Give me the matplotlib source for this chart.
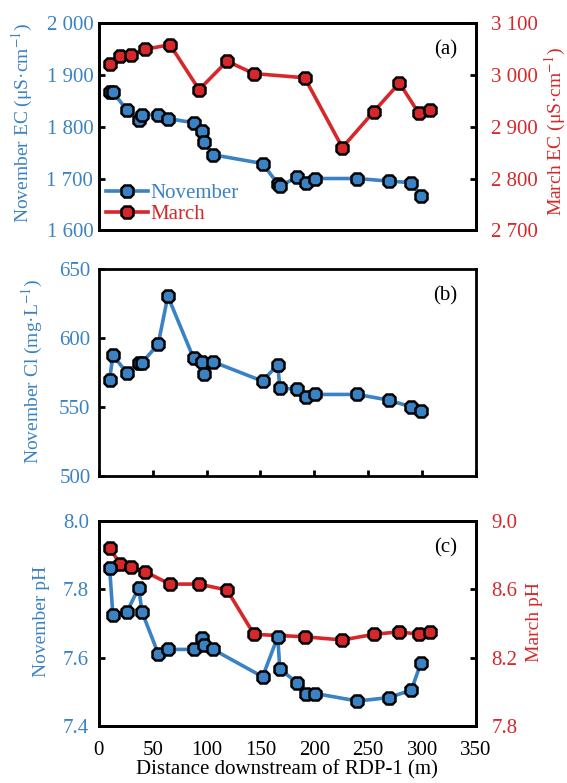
import matplotlib
matplotlib.use("Agg")
import matplotlib.pyplot as plt
from matplotlib.ticker import FuncFormatter

plt.rcParams['font.family'] = ['Liberation Serif', 'DejaVu Serif']
plt.rcParams['mathtext.fontset'] = 'stix'

# ---- data ----
nov_dist = [10, 13, 26, 37, 40, 55, 64, 88, 96, 98, 106, 152, 166, 168, 184, 192, 201, 240, 269, 290, 299]
nov_ec = [1868, 1868, 1832, 1813, 1823, 1823, 1816, 1808, 1792, 1770, 1746, 1729, 1690, 1686, 1702, 1692, 1700, 1700, 1695, 1692, 1666]
nov_cl = [569.8, 587.4, 574.6, 581.9, 581.9, 595.3, 630.0, 585.0, 582.6, 574.1, 582.6, 568.6, 580.6, 563.8, 562.6, 557.3, 559.0, 559.0, 554.9, 550.0, 546.9]
nov_ph = [7.861, 7.724, 7.734, 7.804, 7.734, 7.612, 7.624, 7.624, 7.656, 7.637, 7.624, 7.544, 7.661, 7.566, 7.527, 7.495, 7.495, 7.473, 7.483, 7.505, 7.585]

mar_dist = [10, 20, 30, 43, 66, 93, 119, 144, 191, 226, 255, 279, 297, 307]
mar_ec = [3021, 3037, 3039, 3050, 3059, 2972, 3027, 3003, 2995, 2860, 2929, 2985, 2926, 2932]
mar_ph = [8.842, 8.745, 8.731, 8.702, 8.630, 8.630, 8.595, 8.336, 8.322, 8.303, 8.336, 8.351, 8.336, 8.351]

x_ticks = [0, 50, 100, 150, 200, 250, 300, 350]
ec_nov_ticks = [1600, 1700, 1800, 1900, 2000]
ec_mar_ticks = [2700, 2800, 2900, 3000, 3100]
cl_ticks = [500, 550, 600, 650]
ph_nov_ticks = [7.4, 7.6, 7.8, 8.0]
ph_mar_ticks = [7.8, 8.2, 8.6, 9.0]

BLUE = '#3A82C4'
RED = '#D6282A'
FS = 15
LFS = 14

fig = plt.figure(figsize=(5.67, 7.83), dpi=100)
L, W = 0.1744, 0.665
axa = fig.add_axes([L, 0.706, W, 0.264])
axb = fig.add_axes([L, 0.392, W, 0.265])
axc = fig.add_axes([L, 0.0728, W, 0.262])

line_kw = dict(lw=2.6, marker='8', ms=9.5, mec='black', mew=1.8)

def thousands(v, pos):
    return f"{int(v):,}".replace(",", " ")

def style(ax, color, side='left', pad=4):
    for s in ax.spines.values():
        s.set_linewidth(2.0)
    ax.tick_params(axis='y', direction='in', length=4, width=2, labelsize=FS,
                   labelcolor=color, pad=pad, left=(side == 'left'), right=(side == 'right'),
                   labelleft=(side == 'left'), labelright=(side == 'right'))

# ---- panel (a) ----
axa2 = axa.twinx()
ln1, = axa.plot(nov_dist, nov_ec, color=BLUE, mfc=BLUE, label='November', **line_kw)
ln2, = axa2.plot(mar_dist, mar_ec, color=RED, mfc=RED, label='March', **line_kw)
axa.set_xlim(0, 350)
axa.set_ylim(1600, 2000)
axa2.set_ylim(2700, 3100)
axa.set_yticks(ec_nov_ticks)
axa2.set_yticks(ec_mar_ticks)
axa.yaxis.set_major_formatter(FuncFormatter(thousands))
axa2.yaxis.set_major_formatter(FuncFormatter(thousands))
style(axa, BLUE, 'left', pad=4)
style(axa2, RED, 'right', pad=11)
axa.tick_params(axis='x', bottom=False, labelbottom=False)
axa.set_ylabel('November EC (μS·cm$^{-1}$)', color=BLUE, fontsize=LFS)
axa.yaxis.set_label_coords(-0.169, 0.52)
axa2.set_ylabel('March EC (μS·cm$^{-1}$)', color=RED, fontsize=LFS)
axa2.yaxis.set_label_coords(1.178, 0.477)
axa.text(0.95, 0.871, '(a)', transform=axa.transAxes, ha='right', va='center', fontsize=FS)
axa2.legend(handles=[ln1, ln2], loc='lower left', bbox_to_anchor=(0.02, 0.03),
            frameon=False, fontsize=FS, handlelength=2.0, handletextpad=0.1,
            labelspacing=0.05, borderpad=0, borderaxespad=0, labelcolor=[BLUE, RED])

# ---- panel (b) ----
axb.plot(nov_dist, nov_cl, color=BLUE, mfc=BLUE, **line_kw)
axb.set_xlim(0, 350)
axb.set_ylim(500, 650)
axb.set_yticks(cl_ticks)
style(axb, BLUE, 'left', pad=6)
axb.set_xticks(x_ticks)
axb.tick_params(axis='x', direction='in', length=4, width=2, labelbottom=False)
axb.set_ylabel('November Cl (mg·L$^{-1}$)', color=BLUE, fontsize=LFS)
axb.yaxis.set_label_coords(-0.143, 0.505)
axb.text(0.95, 0.867, '(b)', transform=axb.transAxes, ha='right', va='center', fontsize=FS)

# ---- panel (c) ----
axc2 = axc.twinx()
axc.set_zorder(axc2.get_zorder() + 1)
axc.patch.set_visible(False)
axc.plot(nov_dist, nov_ph, color=BLUE, mfc=BLUE, **line_kw)
axc2.plot(mar_dist, mar_ph, color=RED, mfc=RED, **line_kw)
axc.set_xlim(0, 350)
axc.set_ylim(7.4, 8.0)
axc2.set_ylim(7.8, 9.0)
axc.set_yticks(ph_nov_ticks)
axc2.set_yticks(ph_mar_ticks)
axc.yaxis.set_major_formatter(FuncFormatter(lambda v, p: f"{v:.1f}"))
axc2.yaxis.set_major_formatter(FuncFormatter(lambda v, p: f"{v:.1f}"))
style(axc, BLUE, 'left', pad=7)
style(axc2, RED, 'right', pad=11)
axc.set_xticks(x_ticks)
axc.tick_params(axis='x', length=0, labelsize=FS, pad=11)
axc.set_ylabel('November pH', color=BLUE, fontsize=LFS)
axc.yaxis.set_label_coords(-0.130, 0.509)
axc2.set_ylabel('March pH', color=RED, fontsize=LFS)
axc2.yaxis.set_label_coords(1.133, 0.507)
axc.set_xlabel('Distance downstream of RDP-1 (m)', fontsize=FS)
axc.xaxis.set_label_coords(0.5, -0.168)
axc.text(0.95, 0.867, '(c)', transform=axc.transAxes, ha='right', va='center', fontsize=FS)

fig.savefig('out.png', dpi=100)
